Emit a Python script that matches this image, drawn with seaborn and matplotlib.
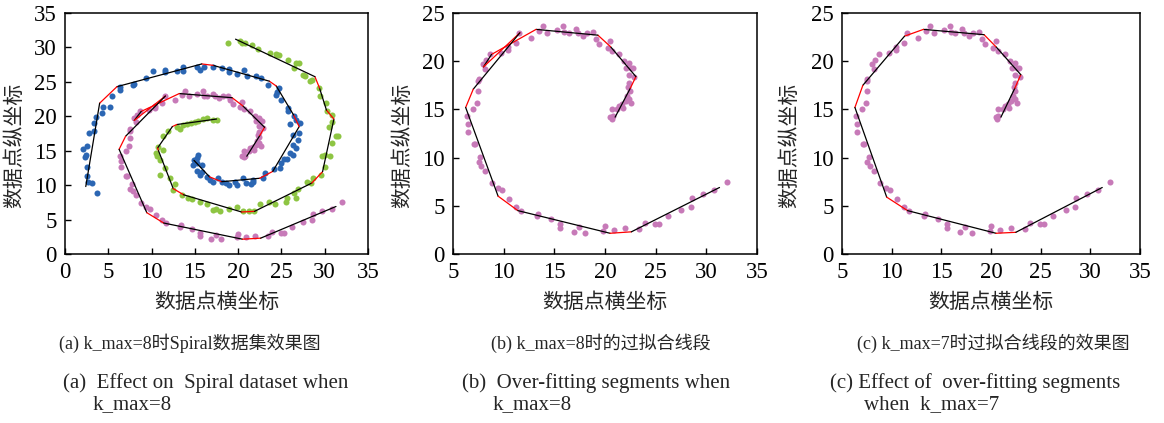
import matplotlib
matplotlib.use("Agg")
import matplotlib.pyplot as plt
import seaborn as sns

# ---- data ----
# pink spiral (shared by all three panels)
pink_x = [32.0, 30.8, 29.7, 28.6, 28.5, 27.5, 26.2, 25.3, 24.9, 23.95, 23.4, 22.0, 20.9, 20.0, 19.85,
          18.05, 16.9, 17.4, 15.55, 15.6, 14.7, 13.4, 13.3, 11.7, 11.2, 10.5, 9.85, 9.4, 8.8, 8.2,
          7.8, 7.55, 7.7, 7.2, 7.1, 6.5, 6.5, 6.4, 7.0, 7.4, 7.5, 7.5, 7.55, 8.2, 8.3, 8.7, 8.0,
          9.75, 10.4, 10.45, 11.2, 11.5, 12.7, 13.5, 13.9, 14.3, 15.3, 15.9, 16.0, 16.4, 17.1, 17.3,
          17.8, 18.2, 18.8, 19.1, 19.4, 20.5, 20.25, 20.7, 21.4, 21.9, 22.1, 22.4, 22.6, 22.8, 22.4,
          22.9, 22.4, 22.3, 22.45, 22.2, 22.4, 22.05, 22.6, 21.7, 21.8, 21.4, 21.2, 20.7, 20.75,
          20.5, 20.65]
pink_y = [7.5, 6.6, 6.2, 5.85, 4.9, 4.6, 3.95, 3.1, 3.1, 3.25, 2.55, 2.65, 2.5, 2.9, 2.4,
          2.2, 2.25, 2.75, 3.1, 2.65, 3.6, 4.2, 3.9, 4.5, 4.9, 5.7, 6.6, 6.8, 7.4, 8.6,
          9.1, 9.5, 10.1, 11.4, 11.4, 12.7, 13.5, 14.3, 15.0, 15.65, 16.9, 17.9, 18.2, 19.15, 20.15, 20.7, 19.7,
          20.9, 21.2, 21.5, 21.9, 22.9, 22.4, 23.1, 23.7, 22.9, 23.2, 23.7, 23.0, 22.9, 23.3, 22.9,
          22.6, 22.9, 23.0, 22.3, 21.8, 22.05, 21.4, 21.1, 20.7, 20.0, 19.3, 19.8, 19.3, 19.3, 18.6,
          18.35, 17.7, 17.3, 16.95, 16.4, 16.05, 15.9, 15.7, 15.55, 15.1, 15.4, 15.0, 15.0, 14.3,
          14.2, 14.05]

blue_x = [3.65, 3.08, 2.7, 2.58, 2.58, 2.42, 2.3, 2.1, 2.58, 2.77, 3.35, 3.35, 3.58, 4.3, 4.4,
          5.2, 5.4, 6.35, 6.4, 7.9, 8.0, 9.4, 10.2, 11.5, 11.6, 12.9, 13.65, 13.65, 15.2, 15.6,
          16.0, 17.1, 18.1, 19.0, 19.0, 19.9, 20.7, 21.0, 22.1, 22.6, 23.5, 24.7, 24.4, 24.5, 24.9,
          25.8, 25.8, 26.5, 26.65, 26.0, 27.2, 27.0, 26.35, 26.9, 26.3, 26.65, 26.0, 26.35, 25.3,
          25.6, 24.9, 24.8, 24.1, 23.1, 22.9, 21.7, 21.7, 21.5, 20.6, 20.9, 19.6, 19.0, 19.9,
          18.65, 18.1, 17.7, 17.1, 16.7, 16.35, 15.8, 15.6, 15.2, 15.8, 15.2, 14.8, 14.9, 15.4, 15.2]
blue_y = [8.8, 10.3, 10.4, 11.3, 12.7, 14.4, 14.1, 15.3, 15.75, 17.5, 17.9, 19.0, 19.9, 20.5, 21.4,
          21.4, 22.9, 23.75, 24.3, 24.6, 24.7, 25.5, 26.6, 26.4, 26.7, 26.6, 27.2, 26.6, 27.2, 26.75,
          27.2, 27.1, 27.0, 26.9, 26.5, 26.2, 26.75, 25.9, 25.8, 25.5, 24.6, 24.1, 23.1, 23.5, 22.4,
          21.2, 20.7, 20.0, 19.5, 18.9, 19.0, 17.6, 17.3, 16.6, 15.85, 15.4, 14.6, 14.4, 13.8,
          13.8, 13.2, 12.5, 12.4, 11.7, 11.0, 10.8, 10.4, 10.1, 11.0, 10.3, 10.5, 10.0, 10.0,
          10.3, 10.5, 11.0, 10.4, 10.8, 11.2, 11.9, 11.5, 12.1, 12.9, 13.2, 12.9, 13.6, 14.4, 13.9]

green_x = [18.85, 20.2, 20.4, 20.8, 21.65, 22.3, 23.65, 24.35, 24.7, 24.5, 25.8, 26.65, 27.0, 26.5,
           27.5, 28.3, 28.5, 27.7, 29.35, 29.4, 30.1, 30.3, 30.8, 30.8, 30.5, 31.35, 31.5, 30.8,
           30.0, 29.7, 30.6, 30.0, 29.6, 28.6, 27.95, 28.4, 26.9, 26.4, 26.65, 25.6, 25.5, 24.2,
           23.6, 22.5, 21.85, 21.3, 20.6, 19.9, 19.0, 17.95, 17.4, 17.1, 16.35, 15.6, 14.7, 14.2,
           13.5, 12.5, 12.7, 12.1, 10.96, 11.5, 10.96, 10.6, 10.5, 11.3, 10.8, 11.35, 11.9, 12.9,
           13.3, 13.6, 14.1, 14.6, 15.0, 15.4, 15.9, 16.35, 17.1, 17.5]
green_y = [30.7, 30.9, 30.6, 30.6, 30.4, 29.8, 29.2, 29.1, 28.9, 28.9, 28.2, 27.7, 27.8, 27.0,
           26.0, 25.1, 25.2, 25.8, 24.1, 22.9, 21.9, 20.8, 20.2, 19.2, 18.4, 17.1, 17.2, 16.1,
           14.4, 14.2, 14.2, 12.7, 11.5, 11.0, 10.5, 10.3, 9.4, 8.8, 8.1, 8.1, 7.5, 7.3,
           7.6, 7.3, 6.2, 6.2, 6.3, 6.8, 6.5, 6.2, 6.5, 6.4, 7.3, 7.6, 7.95, 8.2,
           8.6, 9.3, 10.2, 11.0, 11.5, 12.5, 13.7, 14.25, 14.7, 15.1, 15.6, 17.1, 17.8, 18.5,
           18.1, 18.8, 18.9, 19.0, 19.1, 19.3, 19.6, 19.7, 19.4, 19.5]

# fitted segment end points: edge 0-1 black, 1-2 red (joint), 2-3 black, ...
blue_fit_x = [14.9, 16.7, 18.1, 22.5, 24.0, 27.05, 26.4, 24.4, 23.6, 17.1, 15.8, 6.0, 4.0, 2.4]
blue_fit_y = [13.6, 11.2, 10.5, 11.0, 12.0, 18.5, 20.2, 24.4, 25.1, 27.4, 27.6, 24.3, 21.9, 9.8]

green_fit_x = [17.5, 12.9, 12.4, 10.7, 10.8, 12.5, 13.7, 20.4, 21.9, 28.5, 29.75, 31.06, 30.2, 29.4, 28.87, 19.7]
green_fit_y = [19.6, 18.8, 18.5, 15.4, 15.0, 9.5, 8.6, 6.1, 6.2, 10.3, 11.95, 19.6, 20.9, 24.1, 25.75, 31.2]

pink8_fit_x = [21.0, 22.5, 23.05, 20.55, 19.3, 13.2, 8.8, 8.0, 11.6, 7.0, 6.25, 9.45, 11.4, 20.5, 22.6, 31.3]
pink8_fit_y = [14.2, 17.2, 18.4, 21.5, 22.7, 23.3, 20.7, 19.4, 22.95, 17.1, 15.2, 6.0, 4.5, 2.15, 2.3, 6.9]

pink7_fit_x = [21.0, 22.4, 23.0, 20.5, 19.3, 13.2, 11.3, 7.1, 6.3, 9.5, 11.6, 20.5, 22.5, 31.2]
pink7_fit_y = [14.2, 17.2, 18.6, 21.5, 22.75, 23.3, 22.6, 17.5, 15.2, 5.9, 4.5, 2.15, 2.25, 6.9]

ticks_a = [0, 5, 10, 15, 20, 25, 30, 35]
ticks_bc_x = [5, 10, 15, 20, 25, 30, 35]
ticks_bc_y = [0, 5, 10, 15, 20, 25]

cn_captions = ["(a) k_max=8时Spiral数据集效果图", "(b) k_max=8时的过拟合线段", "(c) k_max=7时过拟合线段的效果图"]
en_line1 = ["(a)  Effect on  Spiral dataset when", "(b)  Over-fitting segments when", "(c) Effect of  over-fitting segments"]
en_line2 = ["k_max=8", "k_max=8", "when  k_max=7"]

PINK = "#c77ab8"
BLUE = "#2b66b3"
GREEN = "#8ec543"

sns.set_theme(style="white")
plt.rcParams['font.family'] = ['Liberation Serif', 'Noto Sans CJK SC', 'DejaVu Sans']
CJK = ['Noto Sans CJK SC', 'Liberation Serif']
MIX = ['Liberation Serif', 'Noto Sans CJK SC']


def draw_fit(ax, fx, fy):
    """Black fitted segments joined by red connectors."""
    for i in range(len(fx) - 1):
        c = 'black' if i % 2 == 0 else 'red'
        ax.plot(fx[i:i + 2], fy[i:i + 2], color=c, lw=0.9, zorder=3)


def dots(ax, x, y, color):
    sns.scatterplot(x=x, y=y, color=color, s=19, linewidth=0, ax=ax, zorder=2, legend=False)


def style_axis(ax, xt, yt, ylab_x):
    ax.set_xlim(xt[0], xt[-1])
    ax.set_ylim(yt[0], yt[-1])
    ax.set_xticks(xt)
    ax.set_yticks(yt)
    ax.tick_params(direction='in', length=4, width=1, labelsize=16.5, pad=6,
                   bottom=True, left=True, top=False, right=False, colors='black')
    for s in ax.spines.values():
        s.set_color('black')
        s.set_linewidth(1.1)
    ax.set_xlabel('数据点横坐标', family=CJK, fontsize=15)
    ax.set_ylabel('数据点纵坐标', family=CJK, fontsize=15)
    ax.xaxis.set_label_coords(0.5, -0.155)
    ax.yaxis.set_label_coords(ylab_x, 0.45)


fig = plt.figure(figsize=(11.64, 4.23), dpi=100)
W, H = 1164, 423
boxes = [(65, 368), (453, 757), (842, 1140)]
axes = [fig.add_axes([l / W, (H - 254) / H, (r - l) / W, 241 / H]) for l, r in boxes]

# (a)
ax = axes[0]
dots(ax, blue_x, blue_y, BLUE)
dots(ax, pink_x, pink_y, PINK)
dots(ax, green_x, green_y, GREEN)
draw_fit(ax, blue_fit_x, blue_fit_y)
draw_fit(ax, pink8_fit_x, pink8_fit_y)
draw_fit(ax, green_fit_x, green_fit_y)
style_axis(ax, ticks_a, ticks_a, -0.132)

# (b)
ax = axes[1]
dots(ax, pink_x, pink_y, PINK)
draw_fit(ax, pink8_fit_x, pink8_fit_y)
style_axis(ax, ticks_bc_x, ticks_bc_y, -0.132)

# (c)
ax = axes[2]
dots(ax, pink_x, pink_y, PINK)
draw_fit(ax, pink7_fit_x, pink7_fit_y)
style_axis(ax, ticks_bc_x, ticks_bc_y, -0.141)

# captions
cn_x = [190, 601, 993]
en_x1 = [63, 462, 830]
en_x2 = [93, 493, 864]
for i in range(3):
    fig.text(cn_x[i] / W, 1 - 343 / H, cn_captions[i], family=MIX, fontsize=13,
             ha='center', va='center')
    fig.text(en_x1[i] / W, 1 - 383 / H, en_line1[i], family=MIX, fontsize=15,
             ha='left', va='center')
    fig.text(en_x2[i] / W, 1 - 405 / H, en_line2[i], family=MIX, fontsize=15,
             ha='left', va='center')

fig.savefig('out.png', dpi=100, facecolor='white')
